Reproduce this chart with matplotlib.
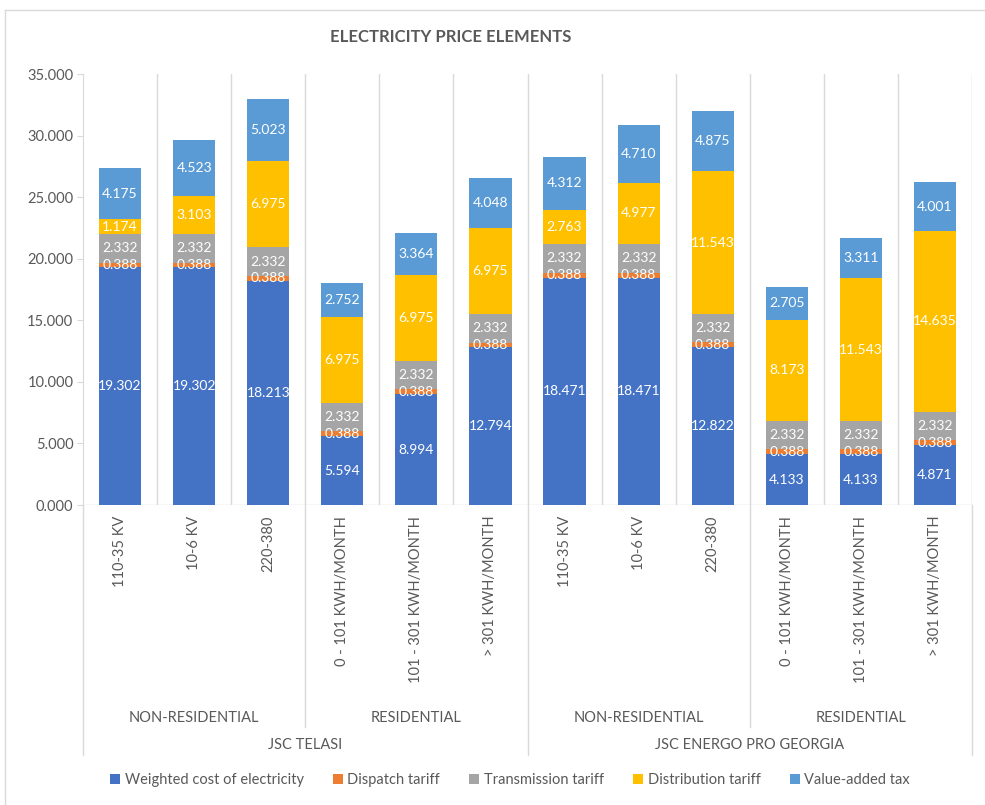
import numpy as np
import matplotlib
matplotlib.use("Agg")
import matplotlib.pyplot as plt
from matplotlib.lines import Line2D
from matplotlib.patches import Patch

plt.rcParams["font.family"] = ["Lato", "DejaVu Sans"]

# Data
categories = ["110-35 KV", "10-6 KV", "220-380",
              "0 - 101 KWH/MONTH", "101 - 301 KWH/MONTH", "> 301 KWH/MONTH",
              "110-35 KV", "10-6 KV", "220-380",
              "0 - 101 KWH/MONTH", "101 - 301 KWH/MONTH", "> 301 KWH/MONTH"]
groups = ["NON-RESIDENTIAL", "RESIDENTIAL", "NON-RESIDENTIAL", "RESIDENTIAL"]
companies = ["JSC TELASI", "JSC ENERGO PRO GEORGIA"]

series_names = ["Weighted cost of electricity", "Dispatch tariff", "Transmission tariff",
                "Distribution tariff", "Value-added tax"]
weighted_cost = [19.302, 19.302, 18.213, 5.594, 8.994, 12.794,
                 18.471, 18.471, 12.822, 4.133, 4.133, 4.871]
dispatch = [0.388] * 12
transmission = [2.332] * 12
distribution = [1.174, 3.103, 6.975, 6.975, 6.975, 6.975,
                 2.763, 4.977, 11.543, 8.173, 11.543, 14.635]
vat = [4.175, 4.523, 5.023, 2.752, 3.364, 4.048,
       4.312, 4.710, 4.875, 2.705, 3.311, 4.001]

colors = ["#4472C4", "#ED7D31", "#A5A5A5", "#FFC000", "#5B9BD5"]
text_gray = "#595959"
grid_gray = "#D9D9D9"

fig = plt.figure(figsize=(9.85, 8.05), dpi=100)
ax = fig.add_axes([83 / 985, 300 / 805, 889 / 985, 431 / 805])

x = np.arange(len(categories))
bottom = np.zeros(len(categories))
for name, vals, col in zip(series_names, [weighted_cost, dispatch, transmission, distribution, vat], colors):
    vals = np.array(vals)
    ax.bar(x, vals, bottom=bottom, width=0.57, color=col, label=name, zorder=3)
    for xi, b, v in zip(x, bottom, vals):
        ax.text(xi, b + v / 2, f"{v:.3f}", ha="center", va="center",
                color="white", fontsize=10, zorder=4)
    bottom += vals

ax.set_xlim(-0.5, len(categories) - 0.5)
ax.set_ylim(0, 35)
ax.set_yticks(np.arange(0, 35.1, 5))
ax.set_yticklabels([f"{v:.3f}" for v in np.arange(0, 35.1, 5)], color=text_gray, fontsize=10.5)
ax.tick_params(axis="y", length=4, color=grid_gray, pad=3)
ax.set_xticks([])

for s in ["top", "right", "bottom"]:
    ax.spines[s].set_visible(False)
ax.spines["left"].set_color(grid_gray)
ax.axhline(0, color=grid_gray, lw=1, zorder=2)

# category gridlines
for b in np.arange(0.5, len(categories) - 0.5, 1):
    ax.axvline(b, color=grid_gray, lw=1, zorder=1)
ax.axvline(len(categories) - 0.5, color=grid_gray, lw=1, zorder=1)

tr = ax.get_xaxis_transform()
# multi-level labels
for xi, lab in zip(x, categories):
    ax.text(xi, -0.025, lab, rotation=90, ha="center", va="top", transform=tr,
            color=text_gray, fontsize=10.5)
for gi, g in enumerate(groups):
    ax.text(gi * 3 + 1, -0.495, g, ha="center", va="center", transform=tr,
            color=text_gray, fontsize=10.5)
for ci, c in enumerate(companies):
    ax.text(ci * 6 + 2.5, -0.558, c, ha="center", va="center", transform=tr,
            color=text_gray, fontsize=10.5)
for b in [-0.5, 5.5, 11.5]:
    ax.plot([b, b], [0, -0.58], color=grid_gray, lw=1, transform=tr, clip_on=False)
for b in [2.5, 8.5]:
    ax.plot([b, b], [0, -0.515], color=grid_gray, lw=1, transform=tr, clip_on=False)

fig.text(451 / 985, 1 - 37 / 805, "ELECTRICITY PRICE ELEMENTS", ha="center", va="center",
         color=text_gray, fontsize=12, fontweight="bold")

handles = [Patch(facecolor=c) for c in colors]
fig.legend(handles, series_names, loc="center", bbox_to_anchor=(510 / 985, 1 - 780 / 805),
           ncol=5, frameon=False, fontsize=10.5, handlelength=0.7, handleheight=0.7,
           handletextpad=0.3, columnspacing=2.0, labelcolor=text_gray)

# chart border
fig.add_artist(Line2D([5 / 985, 5 / 985], [0, 1 - 10 / 805], color=grid_gray, lw=1))
fig.add_artist(Line2D([5 / 985, 1], [1 - 10 / 805, 1 - 10 / 805], color=grid_gray, lw=1))

fig.savefig("out.png", dpi=100)
